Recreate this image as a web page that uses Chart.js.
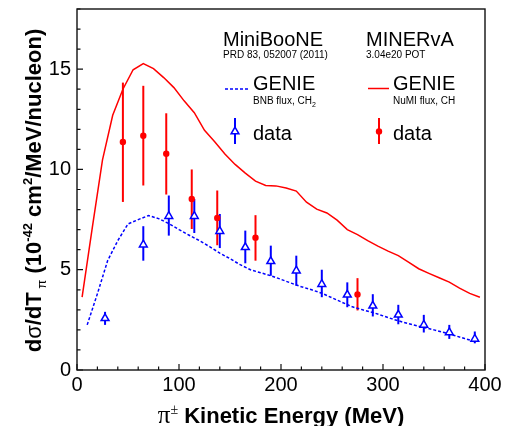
<!DOCTYPE html>
<html><head><meta charset="utf-8">
<script src="https://cdn.jsdelivr.net/npm/chart.js@4/dist/chart.umd.min.js"></script>
<style>html,body{margin:0;padding:0;background:#fff}#wrap{width:507px;height:426px;position:relative}</style>
</head><body><div id="wrap"><canvas id="c"></canvas></div>
<script>
// ---- data ----
const genieNumiX = [5,15,25,35,45,55,65,75,85,95,105,115,125,135,145,155,165,175,185,195,205,215,225,235,245,255,265,275,285,295,305,315,325,335,345,355,365,375,385,395];
const genieNumiY = [3.63,7.1,10.48,12.7,14.0,14.97,15.28,15.03,14.58,14.08,13.42,12.83,11.95,11.38,10.77,10.25,9.82,9.42,9.2,9.18,9.07,8.92,8.37,8.02,7.83,7.47,7.0,6.75,6.45,6.18,5.93,5.7,5.38,5.05,4.82,4.6,4.38,4.08,3.82,3.63];
const genieBnbX = [10,20,30,40,50,60,70,80,90,100,110,120,130,140,150,160,170,180,190,200,210,220,230,240,250,260,270,280,290,300,310,320,330,340,350,360,370,380,390];
const genieBnbY = [2.25,3.8,5.45,6.45,7.28,7.5,7.7,7.55,7.3,7.0,6.72,6.45,6.15,5.83,5.55,5.25,5.0,4.85,4.7,4.52,4.33,4.15,4.0,3.83,3.6,3.37,3.15,3.0,2.87,2.7,2.53,2.38,2.25,2.12,2.0,1.87,1.72,1.57,1.42];
const minibooneX  = [27.5,65,90,115,140,165,190,215,240,265,290,315,340,365,390];
const minibooneY  = [2.58,6.25,7.67,7.67,6.92,6.12,5.42,4.95,4.28,3.75,3.2,2.75,2.25,1.87,1.55];
const minibooneLo = [2.25,5.45,6.7,6.83,6.08,5.32,4.7,4.2,3.63,3.13,2.67,2.28,1.87,1.55,1.33];
const minibooneHi = [2.9,7.17,8.7,8.53,7.78,6.95,6.2,5.7,5.0,4.37,3.78,3.25,2.75,2.25,1.92];
const minervaX  = [45,65,87.5,112.5,137.5,175,275];
const minervaY  = [11.37,11.68,10.78,8.53,7.58,6.6,3.77];
const minervaLo = [8.38,9.2,8.75,7.03,6.22,5.45,2.97];
const minervaHi = [14.33,14.17,12.8,10.0,8.95,7.72,4.58];
const xTickLabels = [0,100,200,300,400];
const yTickLabels = [0,5,10,15];

const RED = 'rgb(255,0,0)';
const BLUE = 'rgb(0,0,255)';
const SANS = '"Liberation Sans", Arial, Helvetica, sans-serif';

function pts(xs, ys){ return xs.map((x,i)=>({x:x, y:ys[i]})); }

const errorBars = {
  id:'errorBars',
  beforeDatasetsDraw(chart){
    const {ctx, scales:{x,y}} = chart;
    ctx.save();
    ctx.lineWidth = 2;
    chart.data.datasets.forEach(ds=>{
      if(!ds.errLo) return;
      ctx.strokeStyle = ds.borderColor;
      ds.data.forEach((p,i)=>{
        const px = x.getPixelForValue(p.x);
        ctx.beginPath();
        ctx.moveTo(px, y.getPixelForValue(ds.errLo[i]));
        ctx.lineTo(px, y.getPixelForValue(ds.errHi[i]));
        ctx.stroke();
      });
    });
    ctx.restore();
  }
};

function drawRich(ctx, segs, x, y, align){
  let total = 0;
  segs.forEach(s=>{ ctx.font = s.f; s.w = ctx.measureText(s.t).width; total += s.w; });
  let cx = align==='center' ? x - total/2 : x;
  segs.forEach(s=>{ ctx.font = s.f; ctx.fillText(s.t, cx, y + (s.dy||0)); cx += s.w; });
}

const frameAndText = {
  id:'frameAndText',
  afterDraw(chart){
    const {ctx, chartArea:a, scales:{x,y}} = chart;
    ctx.save();
    // frame
    ctx.strokeStyle = '#111';
    ctx.lineWidth = 1.4;
    ctx.strokeRect(a.left, a.top, a.right-a.left, a.bottom-a.top);
    // ticks (inside)
    ctx.lineWidth = 1.2;
    ctx.beginPath();
    for(let v=0; v<=400; v+=20){
      const px = x.getPixelForValue(v);
      const len = (v%100===0) ? 6 : 3.5;
      ctx.moveTo(px, a.bottom); ctx.lineTo(px, a.bottom-len);
    }
    for(let v=0; v<=18; v+=1){
      const py = y.getPixelForValue(v);
      const len = (v%5===0) ? 6 : 3.5;
      ctx.moveTo(a.left, py); ctx.lineTo(a.left+len, py);
    }
    ctx.stroke();

    ctx.fillStyle = '#000';
    ctx.textBaseline = 'alphabetic';
    ctx.textAlign = 'left';
    // x title
    drawRich(ctx, [
      {t:'π', f:'25px "Liberation Serif", serif'},
      {t:'±', f:'14px "Liberation Serif", serif', dy:-9},
      {t:' Kinetic Energy (MeV)', f:'bold 22px '+SANS}
    ], (a.left+a.right)/2, 423, 'center');
    // y title
    ctx.save();
    ctx.translate(41, 190.5);
    ctx.rotate(-Math.PI/2);
    drawRich(ctx, [
      {t:'d', f:'bold 22px '+SANS},
      {t:'σ', f:'22px '+SANS},
      {t:'/dT', f:'bold 22px '+SANS},
      {t:' π', f:'13px '+SANS, dy:5},
      {t:' (10', f:'bold 22px '+SANS},
      {t:'-42', f:'bold 13px '+SANS, dy:-9},
      {t:' cm', f:'bold 22px '+SANS},
      {t:'2', f:'bold 13px '+SANS, dy:-9},
      {t:'/MeV/nucleon)', f:'bold 22px '+SANS}
    ], 0, 0, 'center');
    ctx.restore();

    // legend text
    ctx.font = '20px '+SANS;
    ctx.fillText('MiniBooNE', 223, 46);
    ctx.fillText('MINERvA', 366, 46);
    ctx.fillText('GENIE', 253, 90);
    ctx.fillText('GENIE', 393, 90);
    ctx.fillText('data', 253, 140);
    ctx.fillText('data', 393, 140);
    ctx.font = '10px '+SANS;
    ctx.fillText('PRD 83, 052007 (2011)', 223, 58);
    ctx.fillText('3.04e20 POT', 366, 58);
    drawRich(ctx, [
      {t:'BNB flux, CH', f:'10px '+SANS},
      {t:'2', f:'7px '+SANS, dy:3}
    ], 253, 104, 'left');
    ctx.font = '10px '+SANS;
    ctx.fillText('NuMI flux, CH', 393, 104);

    // legend samples
    ctx.lineWidth = 1.5;
    ctx.strokeStyle = BLUE;
    ctx.setLineDash([3,2]);
    ctx.beginPath(); ctx.moveTo(225, 89); ctx.lineTo(249, 89); ctx.stroke();
    ctx.setLineDash([]);
    ctx.strokeStyle = RED;
    ctx.beginPath(); ctx.moveTo(368, 88.5); ctx.lineTo(389, 88.5); ctx.stroke();
    // data markers
    ctx.lineWidth = 2;
    ctx.strokeStyle = BLUE;
    ctx.beginPath(); ctx.moveTo(235, 118); ctx.lineTo(235, 144); ctx.stroke();
    const r = 4.5, cx = 235, cy = 131.5;
    ctx.beginPath();
    ctx.moveTo(cx, cy - r);
    ctx.lineTo(cx + r*Math.sin(2*Math.PI/3), cy - r*Math.cos(2*Math.PI/3));
    ctx.lineTo(cx + r*Math.sin(4*Math.PI/3), cy - r*Math.cos(4*Math.PI/3));
    ctx.closePath();
    ctx.fillStyle = '#fff'; ctx.fill();
    ctx.lineWidth = 1.5; ctx.stroke();
    ctx.lineWidth = 2;
    ctx.strokeStyle = RED;
    ctx.beginPath(); ctx.moveTo(379, 118); ctx.lineTo(379, 144); ctx.stroke();
    ctx.fillStyle = RED;
    ctx.beginPath(); ctx.arc(379, 131.5, 3.2, 0, Math.PI*2); ctx.fill();
    ctx.restore();
  }
};

const tickFont = {size:20, family:SANS};
new Chart(document.getElementById('c'), {
  type:'scatter',
  data:{ datasets:[
    {label:'GENIE NuMI flux, CH', type:'line', data:pts(genieNumiX, genieNumiY), borderColor:RED, borderWidth:1.5, pointRadius:0, fill:false, tension:0, order:4},
    {label:'GENIE BNB flux, CH2', type:'line', data:pts(genieBnbX, genieBnbY), borderColor:BLUE, borderWidth:1.5, borderDash:[3,2], pointRadius:0, fill:false, tension:0, order:3},
    {label:'MiniBooNE data', data:pts(minibooneX, minibooneY), errLo:minibooneLo, errHi:minibooneHi, borderColor:BLUE, backgroundColor:'#fff', pointStyle:'triangle', pointRadius:4.5, borderWidth:1.5, order:2},
    {label:'MINERvA data', data:pts(minervaX, minervaY), errLo:minervaLo, errHi:minervaHi, borderColor:RED, backgroundColor:RED, pointStyle:'circle', pointRadius:3.2, borderWidth:0, order:1}
  ]},
  options:{
    responsive:true, maintainAspectRatio:false, animation:false,
    layout:{padding:{left:0, top:9, right:22, bottom:0}},
    plugins:{legend:{display:false}, tooltip:{enabled:false}},
    scales:{
      x:{type:'linear', min:0, max:400,
        grid:{display:false, drawTicks:false}, border:{display:false},
        ticks:{font:tickFont, color:'#000', padding:3, maxRotation:0, autoSkip:false},
        afterBuildTicks(s){ s.ticks = xTickLabels.map(v=>({value:v})); },
        afterFit(s){ s.height = 56; s.paddingLeft = 0; s.paddingRight = 0; }
      },
      y:{type:'linear', min:0, max:18,
        grid:{display:false, drawTicks:false}, border:{display:false},
        ticks:{font:tickFont, color:'#000', padding:6, autoSkip:false},
        afterBuildTicks(s){ s.ticks = yTickLabels.map(v=>({value:v})); },
        afterFit(s){ s.width = 77; s.paddingTop = 0; s.paddingBottom = 0; }
      }
    }
  },
  plugins:[errorBars, frameAndText]
});
</script>
</body></html>
